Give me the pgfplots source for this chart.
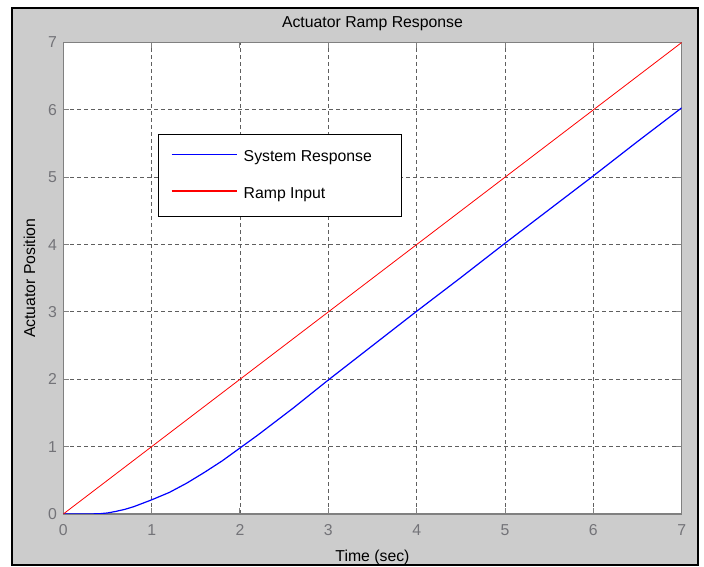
\documentclass[border=0pt]{standalone}
\usepackage{fontspec}
\setmainfont{Liberation Sans}
\usepackage{pgfplots}
\pgfplotsset{compat=1.18}
\definecolor{figgray}{RGB}{204,204,204}
\definecolor{axgray}{RGB}{128,128,128}
\definecolor{tickgray}{RGB}{115,115,120}
\definecolor{gridgray}{RGB}{95,95,95}
\begin{document}
\fontsize{15.8}{19}\selectfont
\begin{tikzpicture}[x=1pt,y=1pt]
\fill[white] (0,0) rectangle (704,567);
\filldraw[fill=figgray,draw=black,line width=2pt] (12,2) rectangle (698,559);
\begin{axis}[
  at={(63.3pt,53pt)}, anchor=south west,
  scale only axis, width=618.4pt, height=471.5pt,
  xmin=0, xmax=7, ymin=0, ymax=7,
  xtick={0,...,7}, ytick={0,...,7},
  axis background/.style={fill=white},
  axis line style={draw=axgray, line width=1.4pt},
  every tick/.style={draw=axgray, line width=1pt},
  tick align=inside, major tick length=6pt,
  grid=major,
  major grid style={draw=gridgray, line width=0.9pt, dash pattern=on 4pt off 3pt},
  /pgf/number format/assume math mode=true,
  tick label style={color=tickgray, font=\fontsize{15.8}{19}\selectfont},
  xticklabel style={yshift=-5pt},
  yticklabel style={xshift=-1pt},
  title={Actuator Ramp Response},
  title style={font=\fontsize{15.8}{19}\selectfont, yshift=0pt},
  xlabel={Time (sec)},
  ylabel={Actuator Position},
  label style={font=\fontsize{15.8}{19}\selectfont},
  xlabel style={yshift=-4pt},
  ylabel style={yshift=2pt},
  legend style={at={(0.1535,0.805)}, anchor=north west, draw=black, line width=1pt,
    fill=white, inner xsep=13pt, inner ysep=16pt, row sep=23pt,
    font=\fontsize{15.8}{19}\selectfont,
    nodes={inner sep=0pt}},
  legend cell align=left,
  legend columns=1,
]
\addlegendimage{legend image code/.code={\node[inner sep=0pt, anchor=west] at (0pt,0pt) {\textcolor{blue}{\rule[3.5pt]{65pt}{1.1pt}}};}}
\addlegendentry{\makebox[152pt][l]{\hspace{7pt}System Response}}
\addlegendimage{legend image code/.code={\node[inner sep=0pt, anchor=west] at (0pt,0pt) {\textcolor{red}{\rule[3.5pt]{65pt}{1.1pt}}};}}
\addlegendentry{\makebox[152pt][l]{\hspace{7pt}Ramp Input}}
\addplot[draw=blue, line width=1.2pt, forget plot] coordinates {
(0,0) (0.2,0) (0.4,0.003) (0.5,0.015) (0.6,0.04) (0.7,0.07) (0.8,0.11) (0.9,0.16)
(1.0,0.21) (1.2,0.32) (1.4,0.46) (1.6,0.62) (1.8,0.79) (2.0,0.98) (2.2,1.17)
(2.4,1.37) (2.6,1.57) (2.8,1.78) (3.0,1.99) (3.5,2.50) (4,3.01) (4.5,3.51)
(5,4.02) (5.5,4.52) (6,5.02) (6.5,5.53) (7,6.03)};
\addplot[draw=red, line width=0.8pt, forget plot] coordinates {(0,0) (7,7)};
\end{axis}
\pgfresetboundingbox
\useasboundingbox (0,0) rectangle (704,567);
\end{tikzpicture}
\end{document}
